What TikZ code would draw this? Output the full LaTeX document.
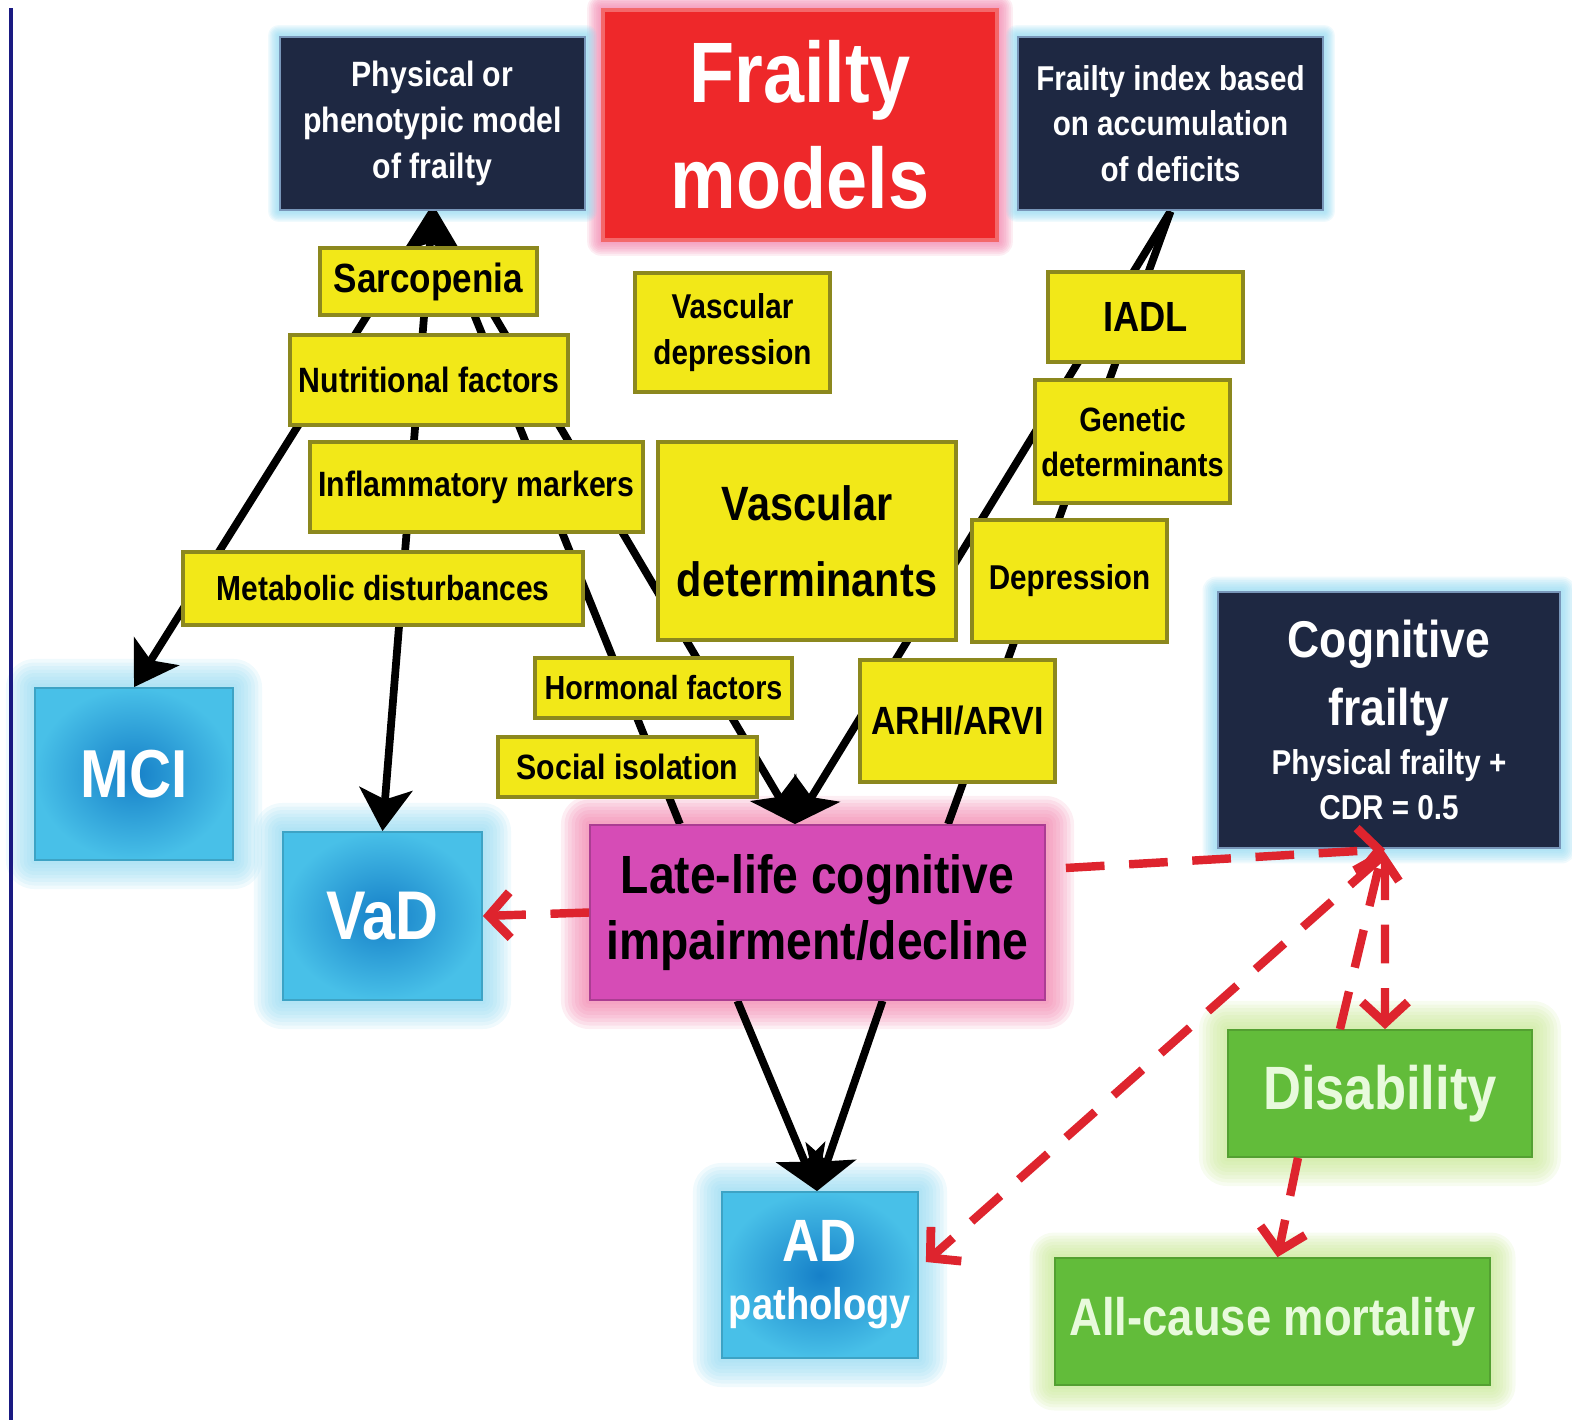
\documentclass[tikz,border=0pt]{standalone}
\usepackage{fontspec}
\setmainfont{Liberation Sans}[FakeStretch=0.86]
\usetikzlibrary{arrows.meta,calc}
\pgfdeclarelayer{glow}
\pgfdeclarelayer{lines}
\pgfsetlayers{glow,lines,main}

\definecolor{navy}{RGB}{30,40,66}
\definecolor{navyedge}{RGB}{120,150,185}
\definecolor{frred}{RGB}{238,40,42}
\definecolor{ybox}{RGB}{242,232,24}
\definecolor{yedge}{RGB}{140,136,30}
\definecolor{skyA}{RGB}{72,192,232}
\definecolor{skyB}{RGB}{22,128,200}
\definecolor{skyglow}{RGB}{140,215,240}
\definecolor{magbox}{RGB}{214,76,182}
\definecolor{pinkglow}{RGB}{240,120,165}
\definecolor{grbox}{RGB}{98,188,58}
\definecolor{grglow}{RGB}{196,230,140}
\definecolor{dashred}{RGB}{222,36,46}
\definecolor{rulecol}{RGB}{26,26,130}

\newcommand{\glowbox}[3]{%
  \begin{pgfonlayer}{glow}
    \foreach \k in {1,...,8}{
      \fill[#2, opacity=0.13, rounded corners=\k*#3/8]
        ([xshift=-\k*#3/8, yshift=-\k*#3/8]#1.south west) rectangle
        ([xshift=\k*#3/8, yshift=\k*#3/8]#1.north east);
    }
  \end{pgfonlayer}}

\tikzset{
  sz/.style 2 args={minimum width=#1*0.01cm, minimum height=#2*0.01cm},
  fs/.style 2 args={font=\bfseries\fontsize{#1}{#2}\selectfont},
  base/.style={rectangle, inner sep=0pt, align=center, font=\bfseries},
  ylw/.style={base, fill=ybox, draw=yedge, line width=1.1pt, text=black},
  navybox/.style={base, fill=navy, draw=navyedge, line width=0.8pt, text=white},
  redbox/.style={base, fill=frred, draw=frred!70!white, line width=1pt, text=white},
  bluebox/.style={base, inner color=skyB, outer color=skyA, draw=skyA!85!black, line width=0.5pt, text=white},
  magbox/.style={base, fill=magbox, draw=magbox!80!black, line width=0.5pt, text=black},
  greenbox/.style={base, fill=grbox, draw=grbox!85!black, line width=0.5pt, text={rgb,255:red,232;green,250;blue,220}},
  blk/.style={line width=2.2pt, black},
  blkhead/.style={-{Stealth[length=12pt, width=15pt, inset=3pt]}},
  reddash/.style={dashred, line width=2.4pt, dash pattern=on 11pt off 7pt,
    -{Straight Barb[length=6pt, width=13pt, line width=2.5pt]}},
}

\begin{document}
\begin{tikzpicture}[x=0.01cm, y=-0.01cm]
\useasboundingbox (0,0) rectangle (1572,1424);

% left margin rule
\draw[rulecol, line width=0.9pt] (11,8) -- (11,1420);

% --- top row: the two frailty models and the title
\node[navybox, fs={10}{13}, sz={305}{173}] (phys) at (432.5,123.5)
  {Physical or\\phenotypic model\\of frailty};
\node[redbox, fs={24.4}{30}, sz={394}{230}] (fm) at (800,125)
  {Frailty\\models};
\node[navybox, fs={9.8}{13}, sz={305}{173}] (fi) at (1170.5,123.5)
  {Frailty index based\\on accumulation\\of deficits};

% --- yellow determinant boxes
\node[ylw, fs={11.6}{14}, sz={217}{67}] (sarc) at (428.5,281.5) {Sarcopenia};
\node[ylw, fs={9.8}{13}, sz={195}{119}] (vdep) at (732.5,332.5) {Vascular\\depression};
\node[ylw, fs={12}{14}, sz={195}{90}] (iadl) at (1145.5,317) {IADL};
\node[ylw, fs={10}{12}, sz={278}{90}] (nutr) at (429,380) {Nutritional factors};
\node[ylw, fs={9.6}{12.8}, sz={195}{123}] (gen) at (1132.5,441.5) {Genetic\\determinants};
\node[ylw, fs={10}{12}, sz={333}{90}] (infl) at (476.5,487) {Inflammatory markers};
\node[ylw, fs={13.7}{21.5}, sz={298}{198}] (vdet) at (807,541) {Vascular\\determinants};
\node[ylw, fs={9.8}{12}, sz={195}{122}] (depr) at (1069.5,581) {Depression};
\node[ylw, fs={9.9}{12}, sz={400}{73}] (meta) at (383,588.5) {Metabolic disturbances};
\node[ylw, fs={9.5}{12}, sz={257}{60}] (horm) at (663.5,688) {Hormonal factors};
\node[ylw, fs={11.2}{13}, sz={195}{122}] (arhi) at (957.5,721) {ARHI/ARVI};
\node[ylw, fs={10}{12}, sz={259}{60}] (soc) at (627.5,767) {Social isolation};

% --- outcomes
\node[navybox, fs={14.7}{19.3}, sz={342}{256}] (cf) at (1389,720)
  {Cognitive\\frailty\\[-5.5pt]
   \fontsize{9.8}{13.6}\selectfont Physical frailty +\\[-6.5pt]
   \fontsize{9.8}{13.6}\selectfont CDR = 0.5};
\node[bluebox, fs={19.3}{22}, sz={198}{172}] (mci) at (134,774) {MCI};
\node[bluebox, fs={19.6}{22}, sz={199}{168}] (vad) at (382.5,916) {VaD};
\node[magbox, fs={15.3}{19}, sz={455}{175}] (late) at (817.5,912.5)
  {Late-life cognitive\\impairment/decline};
\node[greenbox, fs={17.4}{20}, sz={304}{127}] (dis) at (1380,1093.5) {Disability};
\node[bluebox, fs={17}{16.5}, sz={196}{166}] (ad) at (820,1275)
  {AD\\\fontsize{12.6}{16}\selectfont pathology};
\node[greenbox, fs={15}{18}, sz={435}{127}] (mort) at (1272.5,1321.5) {All-cause mortality};

% soft halos behind the coloured boxes
\glowbox{mci}{skyglow}{8pt}
\glowbox{vad}{skyglow}{8pt}
\glowbox{ad}{skyglow}{8pt}
\glowbox{late}{pinkglow}{8pt}
\glowbox{dis}{grglow}{8pt}
\glowbox{mort}{grglow}{7pt}
\glowbox{fm}{pinkglow}{4pt}
\glowbox{phys}{skyglow}{3pt}
\glowbox{fi}{skyglow}{3pt}
\glowbox{cf}{skyglow}{4pt}

% --- black connectors, running behind the yellow boxes
\begin{pgfonlayer}{lines}
  \draw[blk, blkhead] (phys.south) -- (mci.north);
  \draw[blk, {Stealth[length=12pt, width=15pt, inset=3pt]}-{Stealth[length=12pt, width=15pt, inset=3pt]}]
    (phys.south) -- (vad.north);
  \draw[blk] (phys.south) -- ([xshift=-1.375cm]late.north);
  \draw[blk, blkhead] (phys.south) -- ([xshift=-0.225cm]late.north);
  \draw[blk, blkhead] (fi.south) -- ([xshift=-0.225cm]late.north);
  \draw[blk] (fi.south) -- ([xshift=1.305cm]late.north);
  \draw[blk, blkhead] ([xshift=-0.8cm]late.south) -- ([xshift=-0.03cm]ad.north);
  \draw[blk, blkhead] ([xshift=0.65cm]late.south) -- ([xshift=-0.03cm]ad.north);
\end{pgfonlayer}

% --- red dashed relations
\draw[reddash] (late.west) -- (vad.east);
\draw[reddash] ([xshift=0.2cm, yshift=0.445cm]late.east) -- ([xshift=-0.04cm]cf.south);
\draw[reddash] ([xshift=-0.4cm]dis.north) -- ([xshift=-0.06cm]cf.south);
\draw[reddash] ([xshift=-0.04cm, yshift=-0.12cm]cf.south) -- ([xshift=0.05cm]dis.north);
\draw[reddash] ([xshift=-0.1cm, yshift=-0.1cm]cf.south) -- ([xshift=0.07cm, yshift=0.13cm]ad.east);
\draw[reddash] ([xshift=-0.82cm]dis.south) -- ([xshift=0.05cm]mort.north);
\end{tikzpicture}
\end{document}
